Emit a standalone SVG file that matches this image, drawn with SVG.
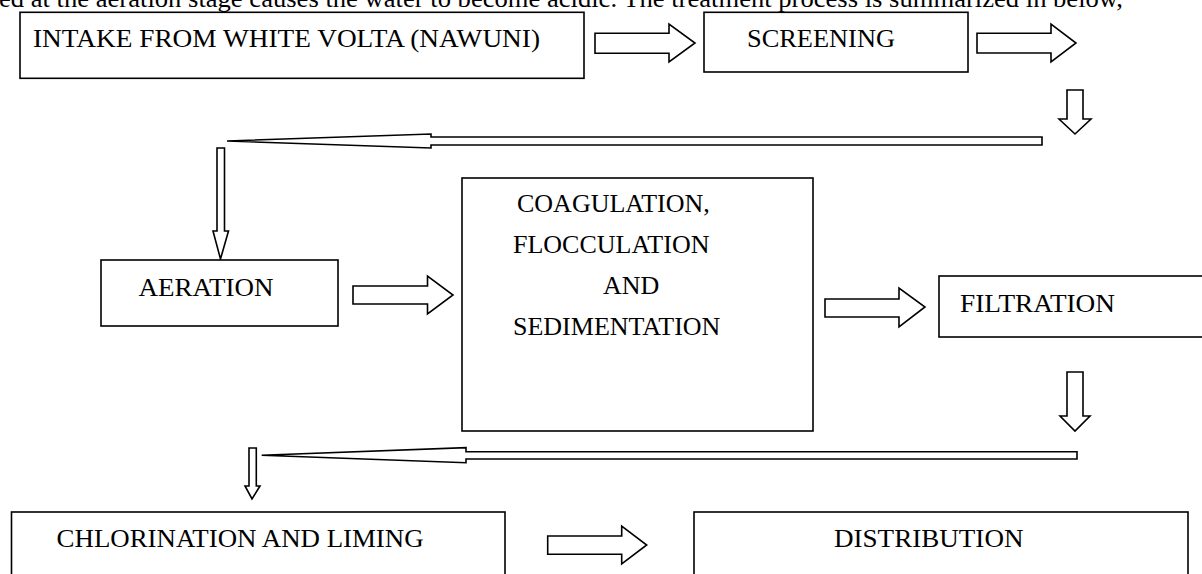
<svg xmlns="http://www.w3.org/2000/svg" width="1202" height="574" viewBox="0 0 1202 574">
<style>
.box{fill:#fff;stroke:#000;stroke-width:1.6}
.arr{fill:#fff;stroke:#000;stroke-width:1.6;stroke-linejoin:miter}
.t{font-family:"Liberation Serif","Times New Roman",serif;font-size:26px;fill:#000}
</style>
<rect width="1202" height="574" fill="#fff"/>
<text class="t" x="-1" y="7" textLength="1124" lengthAdjust="spacingAndGlyphs">ed at the aeration stage causes the water to become acidic. The treatment process is summarized in below,</text>
<g id="connectors">
<polygon class="arr" points="595,33.3 669,33.3 669,24 695,43 669,62 669,53.3 595,53.3"/>
<polygon class="arr" points="977,33.3 1051,33.3 1051,24 1076,43 1051,62 1051,53 977,53"/>
<polygon class="arr" points="1067,90 1083,90 1083,119 1091,119 1075,134 1059,119 1067,119"/>
<polygon class="arr" points="1042,137 431,137 431,134 227,141 431,148 431,145 1042,145"/>
<polygon class="arr" points="217,148 224.5,148 224.5,231 228.5,231 220.5,259 213,231 217,231"/>
<polygon class="arr" points="353,286 427.5,286 427.5,276 453,295 427.5,314 427.5,304 353,304"/>
<polygon class="arr" points="825,299 899,299 899,288 925,307 899,327 899,317 825,317"/>
<polygon class="arr" points="1067,372 1083,372 1083,416 1090,416 1075,431 1060,416 1067,416"/>
<polygon class="arr" points="1077,451.7 466,451.7 466,447.7 261.7,455.3 466,462.7 466,459 1077,459"/>
<polygon class="arr" points="249,448 256.3,448 256.3,486 260,486 252,499 245,486 249,486"/>
<polygon class="arr" points="547.7,536 621.7,536 621.7,526 646.7,545 621.7,564 621.7,554.3 547.7,554.3"/>
</g>
<g id="intake">
<rect class="box" x="20" y="12.3" width="564" height="66"/>
<text class="t" x="33" y="47" textLength="507" lengthAdjust="spacingAndGlyphs">INTAKE FROM WHITE VOLTA (NAWUNI)</text>
</g>
<g id="screening">
<rect class="box" x="704" y="12.3" width="264" height="59.7"/>
<text class="t" x="747" y="47" textLength="148" lengthAdjust="spacingAndGlyphs">SCREENING</text>
</g>
<g id="aeration">
<rect class="box" x="101" y="260" width="237" height="66"/>
<text class="t" x="138.5" y="296" textLength="135" lengthAdjust="spacingAndGlyphs">AERATION</text>
</g>
<g id="coagulation">
<rect class="box" x="462" y="178" width="351" height="253"/>
<text class="t" x="517" y="212">COAGULATION,</text>
<text class="t" x="513" y="253">FLOCCULATION</text>
<text class="t" x="603" y="294">AND</text>
<text class="t" x="513" y="335">SEDIMENTATION</text>
</g>
<g id="filtration">
<rect class="box" x="939" y="276" width="280" height="61"/>
<text class="t" x="960" y="312" textLength="155" lengthAdjust="spacingAndGlyphs">FILTRATION</text>
</g>
<g id="chlorination">
<rect class="box" x="11.5" y="512" width="493.5" height="80"/>
<text class="t" x="56.6" y="547" textLength="367" lengthAdjust="spacingAndGlyphs">CHLORINATION AND LIMING</text>
</g>
<g id="distribution">
<rect class="box" x="694" y="512" width="494" height="80"/>
<text class="t" x="834" y="547" textLength="189.5" lengthAdjust="spacingAndGlyphs">DISTRIBUTION</text>
</g>
</svg>
